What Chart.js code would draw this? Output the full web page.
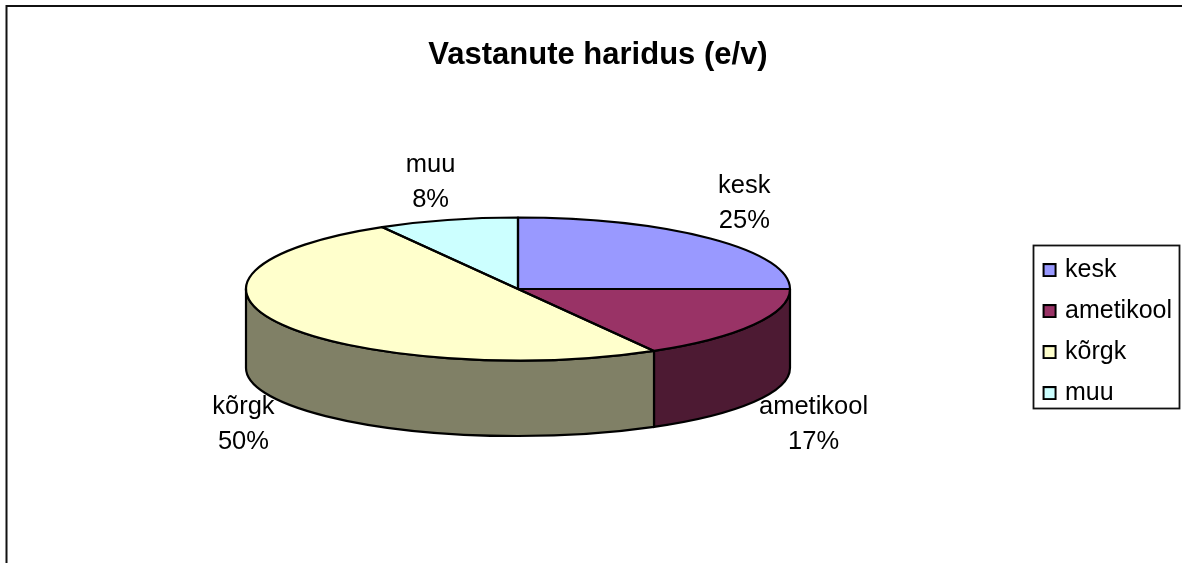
<!DOCTYPE html>
<html>
<head>
<meta charset="utf-8">
<style>html,body{margin:0;padding:0;background:#fff}canvas{display:block}</style>
<script src="https://cdn.jsdelivr.net/npm/chart.js@4/dist/chart.umd.min.js"></script>
</head>
<body>
<canvas id="c" width="1182" height="563"></canvas>
<script>
const chartTitle = 'Vastanute haridus (e/v)';
const categories = ['kesk', 'ametikool', 'kõrgk', 'muu'];
const counts = [6, 4, 12, 2];
const colors = ['#9999FF', '#993366', '#FFFFCC', '#CCFFFF'];
const labelOffsets = [[34, -35], [60, 24.5], [-39, 24.5], [-17, -37]];

const FONT = '"Liberation Sans", Arial, sans-serif';
const PIE = {cx: 518, cy: 289, rx: 272, ry: 71.5, drop: 79, sideRy: 68};
const LEGEND_BOX = {left: 1033, right: 1179, top: 245, bottom: 408};
const K = PIE.ry / PIE.rx;

function darken(hex) {
  const n = parseInt(hex.slice(1), 16);
  const h = v => Math.round(v / 2);
  return `rgb(${h(n >> 16 & 255)},${h(n >> 8 & 255)},${h(n & 255)})`;
}
function swatch(color) {
  const cv = document.createElement('canvas');
  cv.width = 20; cv.height = 14;
  const g = cv.getContext('2d');
  g.fillStyle = color; g.fillRect(6, 1, 12, 12);
  g.strokeStyle = '#000'; g.lineWidth = 2; g.strokeRect(6, 1, 12, 12);
  return cv;
}

const pie3d = {
  id: 'pie3d',
  beforeDraw(chart) {
    const ctx = chart.ctx;
    ctx.save();
    ctx.fillStyle = '#fff';
    ctx.fillRect(0, 0, chart.width, chart.height);
    ctx.strokeStyle = '#111';
    ctx.lineWidth = 2;
    ctx.strokeRect(6.5, 6, 1300, 640);
    ctx.restore();
  },
  beforeDatasetsDraw(chart) {
    const ctx = chart.ctx;
    const arcs = chart.getDatasetMeta(0).data;
    ctx.save();
    arcs.forEach((arc, i) => {
      const a0 = Math.max(arc.startAngle, 0), a1 = Math.min(arc.endAngle, Math.PI);
      if (a1 <= a0) return;
      ctx.beginPath();
      ctx.ellipse(PIE.cx, PIE.cy, PIE.rx, PIE.ry, 0, a0, a1);
      ctx.ellipse(PIE.cx, PIE.cy + PIE.drop, PIE.rx, PIE.sideRy, 0, a1, a0, true);
      ctx.closePath();
      ctx.fillStyle = darken(colors[i]);
      ctx.fill();
      ctx.strokeStyle = '#000';
      ctx.lineWidth = 2.2;
      ctx.stroke();
    });
    const ref = arcs[0];
    ctx.translate(PIE.cx, PIE.cy);
    ctx.scale(1, K);
    ctx.translate(-ref.x, -ref.y);
  },
  afterDatasetsDraw(chart) {
    const ctx = chart.ctx;
    ctx.restore();
    const arcs = chart.getDatasetMeta(0).data;
    const total = counts.reduce((a, b) => a + b, 0);
    ctx.save();
    ctx.strokeStyle = '#000';
    ctx.lineWidth = 2.2;
    ctx.lineJoin = 'round';
    arcs.forEach(arc => {
      ctx.beginPath();
      ctx.moveTo(PIE.cx, PIE.cy);
      ctx.ellipse(PIE.cx, PIE.cy, PIE.rx, PIE.ry, 0, arc.startAngle, arc.endAngle);
      ctx.closePath();
      ctx.stroke();
    });
    ctx.fillStyle = '#000';
    ctx.font = '25.5px ' + FONT;
    ctx.textAlign = 'center';
    ctx.textBaseline = 'middle';
    arcs.forEach((arc, i) => {
      const m = (arc.startAngle + arc.endAngle) / 2;
      const lower = Math.sin(m) > 0;
      const x = PIE.cx + PIE.rx * Math.cos(m) + labelOffsets[i][0];
      const y = PIE.cy + PIE.ry * Math.sin(m) + (lower ? PIE.drop - 4 : 0) + labelOffsets[i][1];
      ctx.fillText(categories[i], x, y - 17.5);
      ctx.fillText(Math.round(counts[i] / total * 100) + '%', x, y + 17.5);
    });
    ctx.restore();
  },
  afterDraw(chart) {
    const ctx = chart.ctx;
    ctx.save();
    ctx.strokeStyle = '#111';
    ctx.lineWidth = 1.8;
    ctx.strokeRect(LEGEND_BOX.left + .5, LEGEND_BOX.top + .5,
      LEGEND_BOX.right - LEGEND_BOX.left, LEGEND_BOX.bottom - LEGEND_BOX.top);
    ctx.restore();
  }
};

new Chart(document.getElementById('c'), {
  type: 'pie',
  data: {
    labels: categories,
    datasets: [{
      data: counts,
      backgroundColor: colors,
      borderWidth: 0,
      radius: PIE.rx,
      clip: false
    }]
  },
  options: {
    responsive: false,
    animation: false,
    events: [],
    layout: {padding: {left: 14, right: 0, top: 5, bottom: 0}},
    plugins: {
      tooltip: {enabled: false},
      title: {
        display: true,
        text: chartTitle,
        color: '#000',
        font: {family: FONT, size: 31, weight: 'bold'},
        padding: {top: 32, bottom: 26}
      },
      legend: {
        position: 'right',
        fullSize: false,
        labels: {
          color: '#000',
          font: {family: FONT, size: 25},
          usePointStyle: true,
          boxWidth: 10,
          boxHeight: 10,
          padding: 16,
          generateLabels: () => categories.map((t, i) => ({
            text: t, fillStyle: colors[i], strokeStyle: '#000', lineWidth: 0,
            index: i, hidden: false, pointStyle: swatch(colors[i])
          }))
        }
      }
    }
  },
  plugins: [pie3d]
});
</script>
</body>
</html>
